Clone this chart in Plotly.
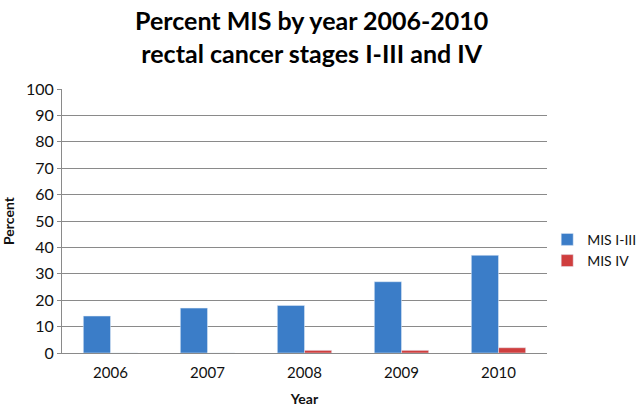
import plotly.graph_objects as go

years = ["2006", "2007", "2008", "2009", "2010"]
mis_1_3 = [14, 17, 18, 27, 37]
mis_4 = [0, 0, 1, 1, 2]
title_lines = ["Percent MIS by year 2006-2010", "rectal cancer stages I-III and IV"]

fig = go.Figure()
fig.add_trace(go.Bar(x=years, y=mis_1_3, name="MIS I-III", marker_color="#3b7dc8"))
fig.add_trace(go.Bar(x=years, y=mis_4, name="MIS IV", marker_color="#cf3e3e"))

plot_top, plot_bottom = 89, 353
fig.add_annotation(text="<b>" + "<br>".join(title_lines) + "</b>", xref="paper", yref="paper",
                   x=0.514, y=(plot_bottom - 36) / (plot_bottom - plot_top),
                   xanchor="center", yanchor="middle",
                   showarrow=False, font=dict(size=25, color="#000"))

fig.update_layout(
    width=640, height=407,
    margin=dict(l=62, r=93, t=89, b=54),
    paper_bgcolor="white", plot_bgcolor="white",
    font=dict(family="Lato, Open Sans, sans-serif", color="#111", size=15),
    barmode="group", bargap=0.44, bargroupgap=0,
    legend=dict(xref="container", yref="container", x=0.855, y=0.385, xanchor="left", yanchor="middle",
                font=dict(size=14), tracegroupgap=6, itemwidth=30),
    showlegend=True,
)
fig.update_yaxes(range=[0, 100], dtick=10, showgrid=True, gridcolor="#8a8a8a", gridwidth=1,
                 showline=True, linecolor="#8a8a8a", ticks="outside", ticklen=4, tickcolor="#8a8a8a",
                 tickfont=dict(size=16), automargin=False,
                 title=dict(text="<b>Percent</b>", font=dict(size=14), standoff=24), zeroline=False)
fig.update_xaxes(showline=True, linecolor="#8a8a8a", ticks="", tickfont=dict(size=15), automargin=False,
                 ticklabelstandoff=6,
                 title=dict(text="<b>Year</b>", font=dict(size=14), standoff=20))

fig.write_html("out.html", post_script="document.body.style.margin='0';",
               config={"displayModeBar": False})
